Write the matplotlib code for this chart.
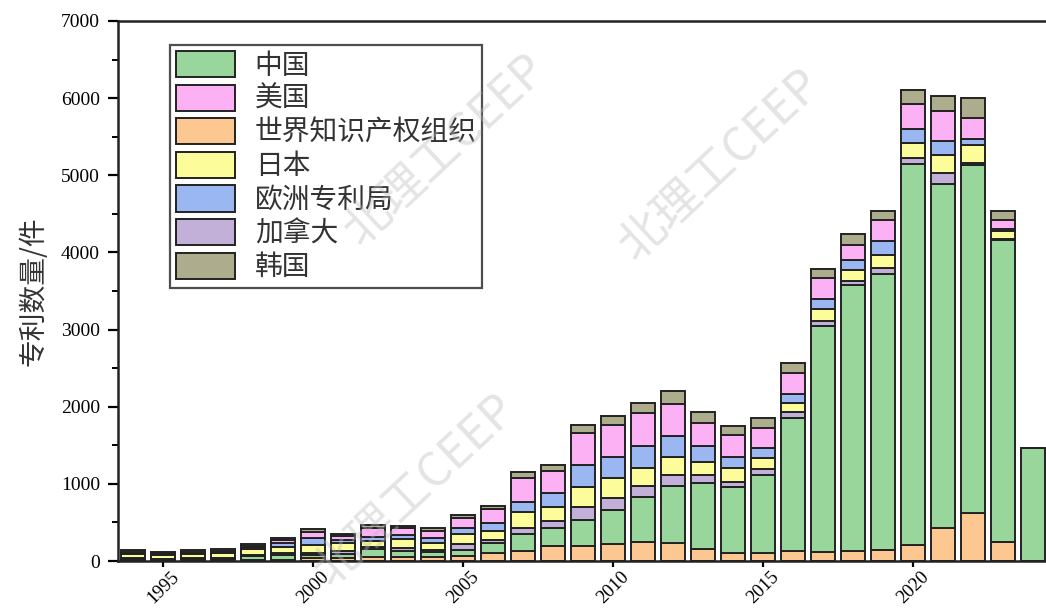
import numpy as np
import matplotlib
matplotlib.use("Agg")
import matplotlib.pyplot as plt
from matplotlib.patches import Patch

# --- data ---
years = np.arange(1994, 2025)

wipo = [5, 5, 5, 6, 10, 19, 35, 35, 56, 48, 48, 69, 108, 134, 199, 199,
        216, 242, 238, 156, 100, 100, 130, 121, 134, 143, 203, 432, 627, 251, 0]
china = [20, 18, 25, 25, 50, 65, 43, 56, 95, 86, 69, 74, 121, 216, 224, 332,
         445, 592, 734, 859, 863, 1015, 1728, 2925, 3444, 3582, 4939, 4459, 4502, 3906, 1460]
canada = [10, 8, 8, 10, 15, 20, 30, 43, 26, 30, 22, 73, 43, 73, 100, 173,
          151, 142, 143, 100, 65, 73, 69, 69, 56, 69, 86, 143, 35, 13, 0]
japan = [56, 45, 50, 65, 80, 80, 99, 95, 87, 117, 99, 130, 117, 216, 181, 259,
         260, 234, 237, 164, 173, 143, 117, 148, 138, 173, 195, 229, 229, 108, 0]
epo = [17, 15, 15, 15, 30, 50, 95, 43, 51, 56, 56, 86, 99, 130, 173, 281,
       280, 285, 273, 216, 151, 130, 121, 133, 130, 181, 173, 181, 73, 30, 0]
usa = [15, 10, 15, 10, 15, 40, 78, 52, 108, 86, 99, 130, 182, 303, 294, 420,
       411, 419, 406, 290, 281, 259, 276, 268, 194, 268, 324, 389, 281, 117, 0]
korea = [20, 20, 25, 25, 20, 20, 35, 26, 44, 31, 30, 34, 43, 86, 73, 99,
         121, 130, 177, 142, 117, 130, 121, 121, 143, 121, 181, 195, 251, 116, 0]

# stacking order bottom -> top
stack_names = ["世界知识产权组织", "中国", "加拿大", "日本", "欧洲专利局", "美国", "韩国"]
stack_vals = [wipo, china, canada, japan, epo, usa, korea]
colors = {
    "中国": "#99d69b",
    "美国": "#fdb1f5",
    "世界知识产权组织": "#fcc790",
    "日本": "#fdfc9a",
    "欧洲专利局": "#9bb7f2",
    "加拿大": "#c3b0d9",
    "韩国": "#adad8d",
}
legend_order = ["中国", "美国", "世界知识产权组织", "日本", "欧洲专利局", "加拿大", "韩国"]

serif = "Liberation Serif"
cjk = ["Noto Sans CJK SC", "DejaVu Sans"]

fig = plt.figure(figsize=(10.46, 6.11), dpi=100)
ax = fig.add_axes([118 / 1046, 50 / 611, 960 / 1046, 540 / 611])

bottom = np.zeros(len(years))
for name, vals in zip(stack_names, stack_vals):
    vals = np.array(vals, dtype=float)
    ax.bar(years, vals, width=0.8, bottom=bottom, color=colors[name],
           edgecolor="#222222", linewidth=1.4, zorder=2)
    bottom += vals

ax.set_xlim(1993.5, 2025.5)
ax.set_ylim(0, 7000)
ax.set_yticks(np.arange(0, 7001, 1000))
ax.set_yticks(np.arange(500, 7000, 1000), minor=True)
ax.set_xticks(np.arange(1995, 2025, 5))

for s in ["left", "bottom", "top"]:
    ax.spines[s].set_linewidth(1.8)
    ax.spines[s].set_color("#222222")
ax.spines["right"].set_visible(False)

ax.tick_params(axis="y", which="major", direction="out", length=7, width=1.6, pad=6)
ax.tick_params(axis="y", which="minor", direction="out", length=4, width=1.4)
ax.tick_params(axis="x", which="major", direction="out", length=4, width=1.6, pad=1)
ax.tick_params(axis="x", which="minor", length=0)

for lab in ax.get_yticklabels():
    lab.set_fontfamily(serif)
    lab.set_fontsize(14)
for lab in ax.get_xticklabels():
    lab.set_fontfamily(serif)
    lab.set_fontsize(13.5)
    lab.set_rotation(45)
    lab.set_ha("center")
    lab.set_va("top")

ax.set_ylabel("专利数量/件", fontsize=20, family=cjk, color="#333333", labelpad=9)

handles = [Patch(facecolor=colors[n], edgecolor="#222222", linewidth=1.4) for n in legend_order]
leg = ax.legend(handles, legend_order, loc="upper left",
                bbox_to_anchor=(52 / 960, 1 - 24 / 540),
                prop={"family": cjk, "size": 20},
                frameon=True, fancybox=False, edgecolor="#222222",
                handlelength=2.15, handleheight=1.08, handletextpad=0.7,
                labelspacing=0.13, borderpad=0.2, borderaxespad=0)
leg.get_frame().set_linewidth(1.6)
for t in leg.get_texts():
    t.set_color("#333333")

# watermark
for (x, y) in [(445, 150), (720, 165), (415, 490)]:
    fig.text(x / 1046, 1 - y / 611, "北理工CEEP", family=cjk, fontsize=34,
             rotation=43, ha="center", va="center", color="#bbbbbb", alpha=0.4, zorder=10)

fig.savefig("out.png", dpi=100)
